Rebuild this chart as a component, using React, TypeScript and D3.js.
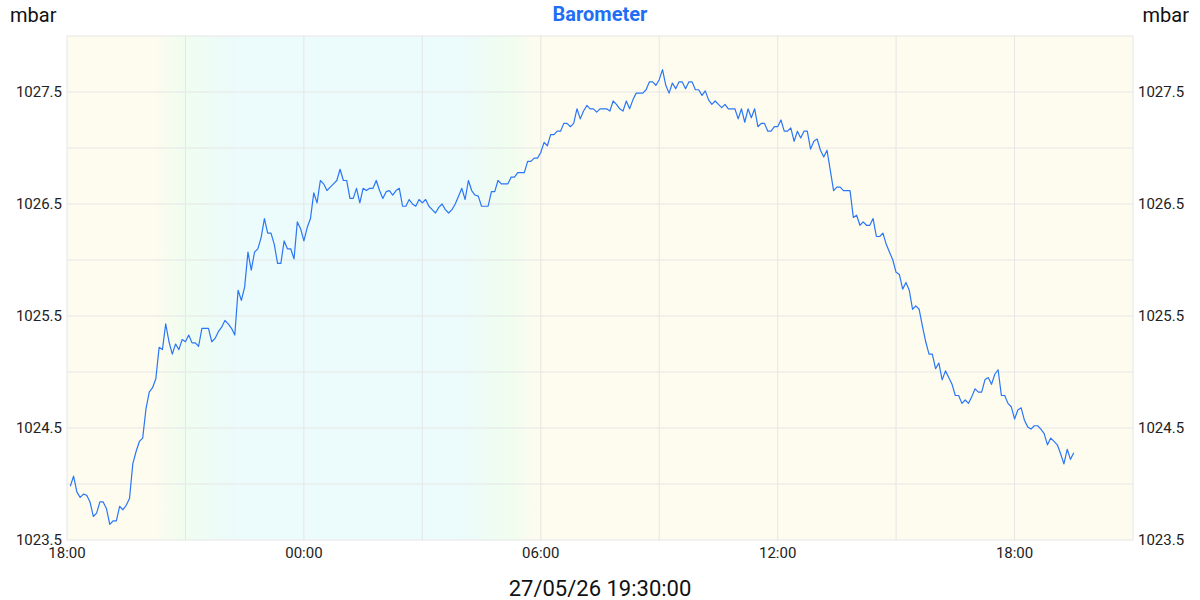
import React from "react";
import * as d3 from "d3";

// ---- data (5-minute readings, mbar) ----
const startTime = new Date(2026, 4, 26, 18, 5); // first reading 18:05
const stepMinutes = 5;
const axisStart = new Date(2026, 4, 26, 18, 0);
const axisEnd = new Date(2026, 4, 27, 21, 0);

const evening = [1023.98, 1024.07, 1023.93, 1023.88, 1023.91, 1023.90, 1023.84, 1023.71, 1023.74, 1023.84, 1023.84, 1023.78, 1023.64, 1023.67, 1023.67, 1023.80, 1023.77, 1023.81, 1023.87, 1024.18, 1024.29, 1024.38, 1024.41, 1024.67, 1024.82, 1024.86, 1024.94, 1025.22, 1025.20, 1025.43, 1025.27, 1025.16, 1025.25, 1025.20, 1025.29, 1025.27, 1025.33];
const lateEvening = [1025.26, 1025.26, 1025.23, 1025.39, 1025.39, 1025.39, 1025.27, 1025.30, 1025.36, 1025.40, 1025.46, 1025.43, 1025.39, 1025.33, 1025.73, 1025.64, 1025.76, 1026.07, 1025.91, 1026.07, 1026.10, 1026.20, 1026.37, 1026.24, 1026.24, 1026.14, 1025.97, 1025.97, 1026.17, 1026.10, 1026.10, 1026.01, 1026.34, 1026.28, 1026.17, 1026.29];
const earlyNight = [1026.37, 1026.60, 1026.51, 1026.71, 1026.68, 1026.62, 1026.65, 1026.68, 1026.71, 1026.81, 1026.71, 1026.71, 1026.55, 1026.55, 1026.64, 1026.51, 1026.64, 1026.62, 1026.64, 1026.64, 1026.71, 1026.62, 1026.55, 1026.61, 1026.62, 1026.58, 1026.62, 1026.64, 1026.48, 1026.48, 1026.54, 1026.50, 1026.48, 1026.54, 1026.51, 1026.54];
const lateNight = [1026.48, 1026.45, 1026.42, 1026.47, 1026.50, 1026.45, 1026.42, 1026.45, 1026.50, 1026.57, 1026.64, 1026.54, 1026.71, 1026.62, 1026.58, 1026.57, 1026.48, 1026.48, 1026.48, 1026.61, 1026.61, 1026.71, 1026.68, 1026.68, 1026.68, 1026.74, 1026.74, 1026.78, 1026.78, 1026.78, 1026.88, 1026.88, 1026.91, 1026.91, 1026.96, 1027.05];
const morning = [1027.02, 1027.12, 1027.12, 1027.15, 1027.15, 1027.22, 1027.22, 1027.19, 1027.22, 1027.35, 1027.26, 1027.33, 1027.38, 1027.35, 1027.35, 1027.32, 1027.35, 1027.35, 1027.35, 1027.33, 1027.42, 1027.39, 1027.35, 1027.33, 1027.42, 1027.35, 1027.43, 1027.49, 1027.49, 1027.49, 1027.52, 1027.59, 1027.59, 1027.56, 1027.61, 1027.70];
const lateMorning = [1027.56, 1027.49, 1027.58, 1027.53, 1027.59, 1027.59, 1027.53, 1027.59, 1027.59, 1027.52, 1027.52, 1027.47, 1027.51, 1027.43, 1027.39, 1027.42, 1027.39, 1027.36, 1027.39, 1027.35, 1027.35, 1027.35, 1027.26, 1027.35, 1027.23, 1027.35, 1027.27, 1027.35, 1027.19, 1027.22, 1027.22, 1027.15, 1027.15, 1027.19, 1027.19];
const afternoon = [1027.25, 1027.15, 1027.15, 1027.18, 1027.06, 1027.15, 1027.09, 1027.15, 1027.15, 1026.99, 1027.06, 1027.08, 1026.98, 1026.92, 1026.98, 1026.80, 1026.62, 1026.65, 1026.65, 1026.62, 1026.62, 1026.62, 1026.38, 1026.40, 1026.31, 1026.34, 1026.31, 1026.31, 1026.37, 1026.21, 1026.21, 1026.24, 1026.14, 1026.07, 1026.00, 1025.89];
const lateAfternoon = [1025.87, 1025.74, 1025.80, 1025.73, 1025.56, 1025.59, 1025.56, 1025.41, 1025.27, 1025.16, 1025.16, 1025.03, 1025.08, 1024.93, 1025.01, 1024.95, 1024.89, 1024.79, 1024.79, 1024.72, 1024.75, 1024.72, 1024.78, 1024.85, 1024.82, 1024.82, 1024.93, 1024.95, 1024.89, 1024.98, 1025.02, 1024.79, 1024.79, 1024.72, 1024.69, 1024.58, 1024.66];
const secondEvening = [1024.68, 1024.57, 1024.51, 1024.49, 1024.52, 1024.52, 1024.49, 1024.45, 1024.35, 1024.41, 1024.38, 1024.35, 1024.27, 1024.18, 1024.31, 1024.22, 1024.28];

const yTickLabels = [1023.5, 1024.5, 1025.5, 1026.5, 1027.5];
const yGridValues = [1023.5, 1024, 1024.5, 1025, 1025.5, 1026, 1026.5, 1027, 1027.5, 1028];
const xGridHours = [0, 3, 6, 9, 12, 15, 18, 21, 24, 27];
const xLabelHours = [0, 6, 12, 18, 24]; // 18:00, 00:00, 06:00, 12:00, 18:00
const title = "Barometer";
const unit = "mbar";
const footer = "27/05/26 19:30:00";

// day/night shading stops: hours from axis start, colour
const shadeStops: [number, string][] = [
  [0, "#fdfcef"],
  [2.2, "#fdfcef"],
  [3.0, "#f0fdf0"],
  [4.3, "#ecfbfb"],
  [10.0, "#ecfbfb"],
  [11.2, "#f0fdef"],
  [11.9, "#fdfcef"],
  [27, "#fdfcef"],
];

export default function App() {
  const W = 1200, H = 600;
  const m = { left: 67, right: 1133, top: 36, bottom: 540 };
  const values = [
    ...evening, ...lateEvening, ...earlyNight, ...lateNight, ...morning,
    ...lateMorning, ...afternoon, ...lateAfternoon, ...secondEvening,
  ];
  const data = values.map((v, i) => ({
    t: new Date(startTime.getTime() + i * stepMinutes * 60000),
    v,
  }));
  const x = d3.scaleTime().domain([axisStart, axisEnd]).range([m.left, m.right]);
  const y = d3.scaleLinear().domain([1023.5, 1028]).range([m.bottom, m.top]);
  const line = d3.line<{ t: Date; v: number }>().x((d) => x(d.t)).y((d) => y(d.v));
  const hour = 3600000;
  const xGrid = xGridHours.map((h) => new Date(axisStart.getTime() + h * hour));
  const xLabels = xLabelHours.map((h) => new Date(axisStart.getTime() + h * hour));
  const totalH = 27;
  const font = "Roboto, 'Noto Sans', sans-serif";
  const fmt = d3.timeFormat("%H:%M");

  return (
    <svg width={W} height={H} style={{ position: "absolute", left: 0, top: 0, background: "#fff" }} fontFamily={font}>
      <defs>
        <linearGradient id="shade" x1="0" x2="1" y1="0" y2="0">
          {shadeStops.map(([h, c], i) => (
            <stop key={i} offset={h / totalH} stopColor={c} />
          ))}
        </linearGradient>
      </defs>
      <rect x={m.left} y={m.top} width={m.right - m.left} height={m.bottom - m.top} fill="url(#shade)" />
      {yGridValues.map((v) => (
        <line key={"gy" + v} x1={m.left} x2={m.right} y1={y(v)} y2={y(v)} stroke="#e6e6e6" strokeWidth={1} />
      ))}
      {xGrid.map((t, i) => (
        <line key={"gx" + i} x1={x(t)} x2={x(t)} y1={m.top} y2={m.bottom} stroke="#e6e6e6" strokeWidth={1} />
      ))}
      <path d={line(data) || ""} fill="none" stroke="#2b76f6" strokeWidth={1.2} strokeLinejoin="round" />
      {yTickLabels.map((v) => (
        <g key={"yl" + v}>
          <text x={m.left - 5} y={y(v)} dy="0.35em" textAnchor="end" fontSize={15} fill="#222">{v.toFixed(1)}</text>
          <text x={m.right + 5} y={y(v)} dy="0.35em" textAnchor="start" fontSize={15} fill="#222">{v.toFixed(1)}</text>
        </g>
      ))}
      {xLabels.map((t, i) => (
        <text key={"xl" + i} x={x(t)} y={558} textAnchor="middle" fontSize={15} fill="#222">{fmt(t)}</text>
      ))}
      <text x={10} y={22} fontSize={20} fill="#111">{unit}</text>
      <text x={1189} y={22} fontSize={20} fill="#111" textAnchor="end">{unit}</text>
      <text x={600} y={21} fontSize={20} fontWeight="bold" fill="#1f6ff5" textAnchor="middle">{title}</text>
      <text x={600} y={596} fontSize={22} fill="#111" textAnchor="middle">{footer}</text>
    </svg>
  );
}
